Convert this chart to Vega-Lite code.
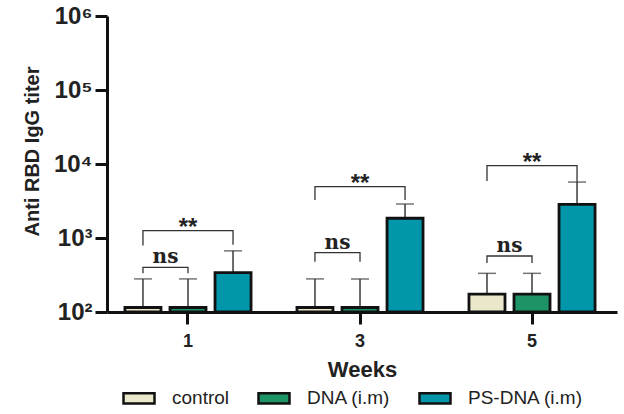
{
  "$schema": "https://vega.github.io/schema/vega-lite/v6.json",
  "width": 510,
  "height": 296,
  "autosize": {"type": "none"},
  "padding": {"left": 107, "top": 16, "right": 7, "bottom": 102},
  "background": "white",
  "config": {
    "view": {"stroke": null},
    "font": "Liberation Sans"
  },
  "datasets": {
    "bars": [
      {"week": "1", "group": "control", "titer": 115, "upper": 280},
      {"week": "1", "group": "DNA (i.m)", "titer": 115, "upper": 280},
      {"week": "1", "group": "PS-DNA (i.m)", "titer": 340, "upper": 670},
      {"week": "3", "group": "control", "titer": 115, "upper": 280},
      {"week": "3", "group": "DNA (i.m)", "titer": 115, "upper": 280},
      {"week": "3", "group": "PS-DNA (i.m)", "titer": 1850, "upper": 2880},
      {"week": "5", "group": "control", "titer": 174, "upper": 333},
      {"week": "5", "group": "DNA (i.m)", "titer": 174, "upper": 333},
      {"week": "5", "group": "PS-DNA (i.m)", "titer": 2850, "upper": 5700}
    ],
    "brackets": [
      {"id": "w1ns", "week": "1", "group": "control", "titer": 333, "ord": 1},
      {"id": "w1ns", "week": "1", "group": "control", "titer": 402, "ord": 2},
      {"id": "w1ns", "week": "1", "group": "DNA (i.m)", "titer": 402, "ord": 3},
      {"id": "w1ns", "week": "1", "group": "DNA (i.m)", "titer": 333, "ord": 4},
      {"id": "w1ss", "week": "1", "group": "control", "titer": 790, "ord": 1},
      {"id": "w1ss", "week": "1", "group": "control", "titer": 1256, "ord": 2},
      {"id": "w1ss", "week": "1", "group": "PS-DNA (i.m)", "titer": 1256, "ord": 3},
      {"id": "w1ss", "week": "1", "group": "PS-DNA (i.m)", "titer": 810, "ord": 4},
      {"id": "w3ns", "week": "3", "group": "control", "titer": 478, "ord": 1},
      {"id": "w3ns", "week": "3", "group": "control", "titer": 633, "ord": 2},
      {"id": "w3ns", "week": "3", "group": "DNA (i.m)", "titer": 633, "ord": 3},
      {"id": "w3ns", "week": "3", "group": "DNA (i.m)", "titer": 478, "ord": 4},
      {"id": "w3ss", "week": "3", "group": "control", "titer": 3262, "ord": 1},
      {"id": "w3ss", "week": "3", "group": "control", "titer": 4935, "ord": 2},
      {"id": "w3ss", "week": "3", "group": "PS-DNA (i.m)", "titer": 4935, "ord": 3},
      {"id": "w3ss", "week": "3", "group": "PS-DNA (i.m)", "titer": 3262, "ord": 4},
      {"id": "w5ns", "week": "5", "group": "control", "titer": 459, "ord": 1},
      {"id": "w5ns", "week": "5", "group": "control", "titer": 571, "ord": 2},
      {"id": "w5ns", "week": "5", "group": "DNA (i.m)", "titer": 571, "ord": 3},
      {"id": "w5ns", "week": "5", "group": "DNA (i.m)", "titer": 459, "ord": 4},
      {"id": "w5ss", "week": "5", "group": "control", "titer": 5890, "ord": 1},
      {"id": "w5ss", "week": "5", "group": "control", "titer": 9490, "ord": 2},
      {"id": "w5ss", "week": "5", "group": "PS-DNA (i.m)", "titer": 9490, "ord": 3},
      {"id": "w5ss", "week": "5", "group": "PS-DNA (i.m)", "titer": 5700, "ord": 4}
    ],
    "labels": [
      {"week": "1", "label": "ns", "titer": 402},
      {"week": "1", "label": "**", "titer": 1256},
      {"week": "3", "label": "ns", "titer": 633},
      {"week": "3", "label": "**", "titer": 4935},
      {"week": "5", "label": "ns", "titer": 571},
      {"week": "5", "label": "**", "titer": 9490}
    ]
  },
  "encoding": {
    "x": {
      "field": "week",
      "type": "nominal",
      "scale": {"paddingInner": 0.267, "paddingOuter": 0.116, "align": 0.45},
      "axis": {
        "title": "Weeks",
        "labelAngle": 0,
        "labelFont": "Liberation Sans",
        "labelFontWeight": "bold",
        "labelFontSize": 18,
        "labelColor": "#222",
        "labelPadding": 8,
        "domainColor": "#111",
        "domainWidth": 3,
        "tickColor": "#111",
        "tickWidth": 3,
        "tickSize": 12,
        "titleFont": "Liberation Sans",
        "titleFontWeight": "bold",
        "titleFontSize": 22,
        "titleColor": "#222",
        "titlePadding": 9
      }
    },
    "y": {
      "field": "titer",
      "type": "quantitative",
      "scale": {"type": "log", "domain": [100, 1000000], "nice": false},
      "axis": {
        "title": "Anti RBD IgG titer",
        "values": [100, 1000, 10000, 100000, 1000000],
        "labelExpr": "datum.value == 100 ? '10²' : datum.value == 1000 ? '10³' : datum.value == 10000 ? '10⁴' : datum.value == 100000 ? '10⁵' : '10⁶'",
        "labelFont": "Liberation Sans",
        "labelFontWeight": "bold",
        "labelFontSize": 24,
        "labelColor": "#222",
        "labelPadding": 3,
        "grid": false,
        "domainColor": "#111",
        "domainWidth": 3,
        "tickColor": "#111",
        "tickWidth": 3,
        "tickSize": 12,
        "titleFont": "Liberation Sans",
        "titleFontWeight": "bold",
        "titleFontSize": 20,
        "titleColor": "#222",
        "titleAngle": -90,
        "titleBaseline": "middle",
        "titleX": -75,
        "titleY": 135
      }
    }
  },
  "layer": [
    {
      "data": {"name": "bars"},
      "mark": {"type": "rule", "color": "#3a3a3a", "strokeWidth": 1.5},
      "encoding": {
        "xOffset": {"field": "group", "type": "nominal", "scale": {"domain": ["control", "DNA (i.m)", "PS-DNA (i.m)"], "paddingInner": 0.2, "paddingOuter": 0}},
        "y2": {"field": "upper"}
      }
    },
    {
      "data": {"name": "bars"},
      "mark": {"type": "tick", "color": "#3a3a3a", "thickness": 1.5, "size": 18},
      "encoding": {
        "xOffset": {"field": "group", "type": "nominal"},
        "y": {"field": "upper", "type": "quantitative"}
      }
    },
    {
      "data": {"name": "bars"},
      "mark": {"type": "bar", "stroke": "#111", "strokeWidth": 2.8},
      "encoding": {
        "xOffset": {"field": "group", "type": "nominal"},
        "y2": {"datum": 100},
        "fill": {
          "field": "group",
          "type": "nominal",
          "scale": {"domain": ["control", "DNA (i.m)", "PS-DNA (i.m)"], "range": ["#ebe7cb", "#1e9466", "#0196a9"]},
          "legend": {
            "title": null,
            "orient": "none",
            "direction": "horizontal",
            "legendX": 15,
            "legendY": 365,
            "symbolType": "M-1,-0.33H1V0.33H-1Z",
            "symbolSize": 961,
            "symbolStrokeColor": "#111",
            "symbolStrokeWidth": 2.5,
            "labelFont": "Liberation Sans",
            "labelFontSize": 19,
            "labelColor": "#222",
            "labelOffset": 16,
            "columnPadding": 23,
            "padding": 0
          }
        }
      }
    },
    {
      "data": {"name": "brackets"},
      "mark": {"type": "line", "color": "#333", "strokeWidth": 1.3},
      "encoding": {
        "xOffset": {"field": "group", "type": "nominal"},
        "detail": {"field": "id"},
        "order": {"field": "ord", "type": "quantitative"}
      }
    },
    {
      "data": {"name": "labels"},
      "transform": [{"filter": "datum.label == 'ns'"}],
      "mark": {"type": "text", "font": "DejaVu Serif", "fontWeight": "bold", "fontSize": 20, "color": "#222", "baseline": "alphabetic", "dy": -4, "dx": -22.5},
      "encoding": {"text": {"field": "label"}}
    },
    {
      "data": {"name": "labels"},
      "transform": [{"filter": "datum.label == '**'"}],
      "mark": {"type": "text", "font": "Liberation Sans", "fontWeight": "bold", "fontSize": 24, "color": "#222", "baseline": "alphabetic", "dy": 4},
      "encoding": {"text": {"field": "label"}}
    }
  ]
}
